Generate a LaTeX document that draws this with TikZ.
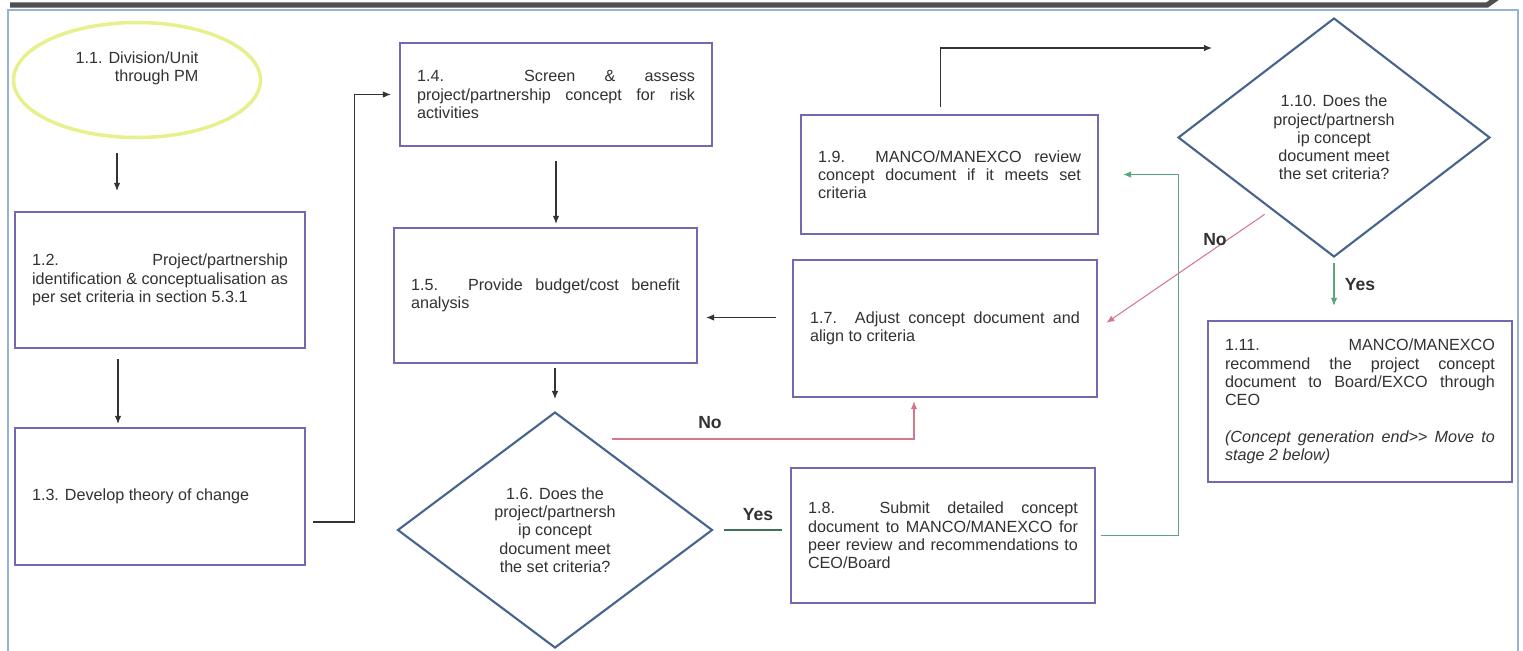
\documentclass[tikz,border=0pt]{standalone}
\usepackage{fontspec}
\setmainfont{Liberation Sans}
\usepackage{tikz}
\usetikzlibrary{positioning,calc,shapes.geometric,arrows.meta}
\definecolor{BoxPurple}{RGB}{112,106,176}
\definecolor{DiamondBlue}{RGB}{72,100,140}
\definecolor{OvalYellow}{RGB}{230,240,140}
\definecolor{FrameBlue}{RGB}{150,180,210}
\definecolor{TopGrey}{RGB}{80,80,80}
\definecolor{NoRed}{RGB}{214,120,140}
\definecolor{YesGreen}{RGB}{90,165,125}
\definecolor{TextGrey}{RGB}{50,50,50}
\newcommand{\boxfont}{\fontsize{9.2}{10.4}\selectfont}

\begin{document}
\begin{tikzpicture}[x=0.02cm,y=-0.02cm,
  stepbox/.style={draw=BoxPurple,line width=1.3pt,fill=white,align=justify,inner xsep=0.34cm,inner ysep=0pt,font=\boxfont,text=TextGrey},
  decision/.style={diamond,draw=DiamondBlue,line width=1.2pt,fill=white,align=center,inner sep=0pt,font=\boxfont,text=TextGrey},
  startoval/.style={ellipse,draw=OvalYellow,line width=2pt,minimum width=4.94cm,minimum height=2.3cm},
  arr/.style={draw=black!80,line width=0.6pt,-{Latex[length=1.6mm,width=1.3mm]}},
  noarr/.style={draw=NoRed,line width=0.6pt,-{Latex[length=1.6mm,width=1.3mm]}},
  yesarr/.style={draw=YesGreen,line width=0.6pt,-{Latex[length=1.6mm,width=1.3mm]}},
  yesline/.style={draw=YesGreen!70!black,line width=0.6pt},
  lbl/.style={font=\fontsize{10}{12}\selectfont\bfseries,text=TextGrey,inner sep=1pt}]
\useasboundingbox (0,0) rectangle (1523,650);

% frame
\draw[FrameBlue,line width=1pt] (8,652) -- (8,10) -- (1518,10) -- (1518,652);
\draw[TopGrey,line width=3pt] (10,5) -- (1487,5) -- (1497,-2);

% left column
\node[startoval,label={[name=t11,align=right,yshift=0.24cm,font=\boxfont,text=TextGrey]center:1.1. Division/Unit\\through PM}] (e11) at (137,80) {};
\node[stepbox,text width=5.12cm,minimum height=2.72cm] (b12) at (160,280) {1.2. Project/partnership\linebreak identification \& conceptualisation as\linebreak per set criteria in section 5.3.1};
\node[stepbox,text width=5.12cm,minimum height=2.74cm] (b13) at (160,496.5) {1.3. Develop theory of change};

% middle column
\node[stepbox,text width=5.56cm,minimum height=2.06cm] (b14) at (556,94.5) {1.4. Screen \& assess\linebreak project/partnership concept for risk\linebreak activities};
\node[stepbox,text width=5.38cm,minimum height=2.7cm] (b15) at (545.5,295.5) {1.5. Provide budget/cost benefit\linebreak analysis};
\node[decision,minimum width=6.3cm,minimum height=4.72cm] (d16) at (555,530) {1.6. Does the\\project/partnersh\\ip concept\\document meet\\the set criteria?};

% right-middle column
\node[stepbox,text width=5.26cm,minimum height=2.38cm] (b19) at (949.5,174.5) {1.9. MANCO/MANEXCO review\linebreak concept document if it meets set\linebreak criteria};
\node[stepbox,text width=5.4cm,minimum height=2.74cm] (b17) at (945,328.5) {1.7. Adjust concept document and\linebreak align to criteria};
\node[stepbox,text width=5.4cm,minimum height=2.7cm] (b18) at (943,535.5) {1.8. Submit detailed concept\linebreak document to MANCO/MANEXCO for\linebreak peer review and recommendations to\linebreak CEO/Board};

% right column
\node[decision,minimum width=6.24cm,minimum height=4.78cm] (d110) at (1334,137.5) {1.10. Does the\\project/partnersh\\ip concept\\document meet\\the set criteria?};
\node[stepbox,text width=5.4cm,minimum height=3.22cm] (b111) at (1360,401.5) {1.11. MANCO/MANEXCO\linebreak recommend the project concept\linebreak document to Board/EXCO through\linebreak CEO\\[\baselineskip]\textit{(Concept generation end\mbox{>}\mbox{>} Move to\linebreak stage 2 below)}};
\coordinate (t110) at (1212,48);

% connectors
\draw[arr,shorten <=0.28cm,shorten >=0.4cm] ([xshift=-0.4cm]e11.south) -- ([xshift=-0.4cm]e11.south |- b12.north);
\draw[arr,shorten <=0.2cm,shorten >=0.06cm] ([xshift=-0.84cm]b12.south) -- ([xshift=-0.84cm]b13.north);
\draw[arr,shorten <=0.14cm,shorten >=0.16cm] ([yshift=-0.51cm]b13.east) -- ++(0.96cm,0) |- (b14.west);
\draw[arr,shorten <=0.28cm,shorten >=0.06cm] (b14.south) -- (b14.south |- b15.north);
\draw[arr,shorten <=0.08cm,shorten >=0.24cm] (d16.north |- b15.south) -- (d16.north);
\draw[arr,shorten <=0.32cm,shorten >=0.16cm] ([yshift=0.22cm]b17.west) -- ([yshift=0.22cm]b17.west -| b15.east);
\draw[noarr,shorten >=0.06cm] ([xshift=1.14cm,yshift=-0.56cm]d16.north) -| ([xshift=-0.62cm]b17.south);
\draw[yesline,shorten <=0.2cm,shorten >=0.16cm] (d16.east) -- (d16.east -| b18.west);
\draw[yesarr,shorten <=0.1cm,shorten >=0.48cm] (b18.east) -- ++(1.64cm,0) |- (b19.east);
\draw[arr,shorten <=0.14cm] ([xshift=-0.18cm]b19.north) |- (t110);
\draw[noarr,shorten <=0.16cm,shorten >=0.2cm] ($(d110.west)!0.6!(d110.south)$) -- (b17.east);
\draw[yesarr,shorten <=0.1cm,shorten >=0.28cm] (d110.south) -- (d110.south |- b111.north);

% branch labels
\node[lbl] (no16) at (710,423) {No};
\node[lbl] (yes16) at (758,515) {Yes};
\node[lbl] (no110) at (1215,240) {No};
\node[lbl] (yes110) at (1360,285) {Yes};
\end{tikzpicture}
\end{document}
